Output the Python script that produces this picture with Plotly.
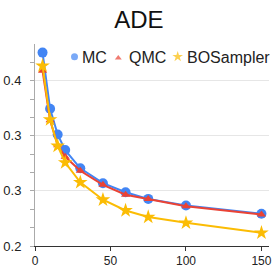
import plotly.graph_objects as go
import numpy as np

# ---- data ----
samples = [5, 10, 15, 20, 30, 45, 60, 75, 100, 150]
mc = [0.434, 0.366, 0.335, 0.316, 0.294, 0.276, 0.265, 0.257, 0.249, 0.239]
qmc = [0.412, 0.352, 0.322, 0.308, 0.291, 0.274, 0.262, 0.257, 0.248, 0.238]
bos = [0.418, 0.353, 0.321, 0.301, 0.277, 0.256, 0.243, 0.235, 0.228, 0.216]
series_names = ["MC", "QMC", "BOSampler"]
colors = ["#4285F4", "#EA4335", "#FBBC04"]
symbols = ["circle", "triangle-up", "star"]
sizes = [10, 8, 11]
title_text = "ADE"

W, H = 274, 274
ml, mr, mt, mb = 35, 5, 44, 28
FONT = "Arial, 'Liberation Sans', sans-serif"

fig = go.Figure()
for name, ys, c, s, sz in zip(series_names, [mc, qmc, bos], colors, symbols, sizes):
    fig.add_trace(go.Scatter(
        x=samples, y=ys, name=name, mode="lines+markers",
        line=dict(color=c, width=2),
        marker=dict(color=c, symbol=s, size=sz, line=dict(width=0)),
        showlegend=False, cliponaxis=False,
    ))

# ---- custom legend (overlay axes in pixel units) ----
leg_sym_x = [74.5, 118.3, 177.7]
leg_sym_y = [56.7, 58.0, 56.7]
leg_txt_x = [80.0, 126.5, 184.5]
leg_sizes = [7, 6, 8]
fig.add_trace(go.Scatter(
    x=leg_sym_x, y=leg_sym_y, mode="markers", xaxis="x2", yaxis="y2",
    marker=dict(color=colors, symbol=symbols, size=leg_sizes, line=dict(width=0)),
    showlegend=False, hoverinfo="skip", cliponaxis=False,
))
for name, tx in zip(series_names, leg_txt_x):
    fig.add_annotation(
        x=tx, y=57.5, xref="x2", yref="y2", text=name, showarrow=False,
        xanchor="left", yanchor="middle",
        font=dict(family=FONT, size=16, color="#222222"),
    )

fig.update_layout(
    width=W, height=H,
    margin=dict(l=ml, r=mr, t=mt, b=mb, pad=0, autoexpand=False),
    paper_bgcolor="white", plot_bgcolor="white",
    title=dict(text=title_text, x=0.5066, xref="container", xanchor="center",
               y=1 - 20 / H, yref="container", yanchor="middle",
               automargin=False,
               font=dict(family=FONT, size=24, color="#111111")),
    font=dict(family=FONT, color="#222222"),
    xaxis=dict(
        range=[0, 155], tickvals=[0, 50, 100, 150], automargin=False,
        showgrid=False, zeroline=False,
        showline=True, linecolor="#333333", linewidth=1,
        ticks="outside", ticklen=4, tickcolor="#333333",
        tickfont=dict(family=FONT, size=12, color="#222222"),
    ),
    yaxis=dict(
        range=[0.2, 0.4444], tick0=0.2, dtick=0.2 / 3, tickformat=".1f",
        automargin=False,
        showgrid=True, gridcolor="#e6e6e6", gridwidth=1, zeroline=False,
        showline=True, linecolor="#aaaaaa", linewidth=1,
        ticks="outside", ticklen=4, tickcolor="#aaaaaa",
        ticklabelstandoff=6,
        tickfont=dict(family=FONT, size=13, color="#222222"),
        minor=dict(dtick=0.2 / 9, tick0=0.2, ticks="outside", ticklen=4,
                   tickcolor="#aaaaaa", showgrid=False),
    ),
    xaxis2=dict(overlaying="x", range=[ml, W - mr], visible=False),
    yaxis2=dict(overlaying="y", range=[H - mb, mt], visible=False),
)

fig.write_html(
    "out.html",
    config={"displayModeBar": False},
    post_script="document.body.style.margin='0';document.body.style.overflow='hidden';",
)
